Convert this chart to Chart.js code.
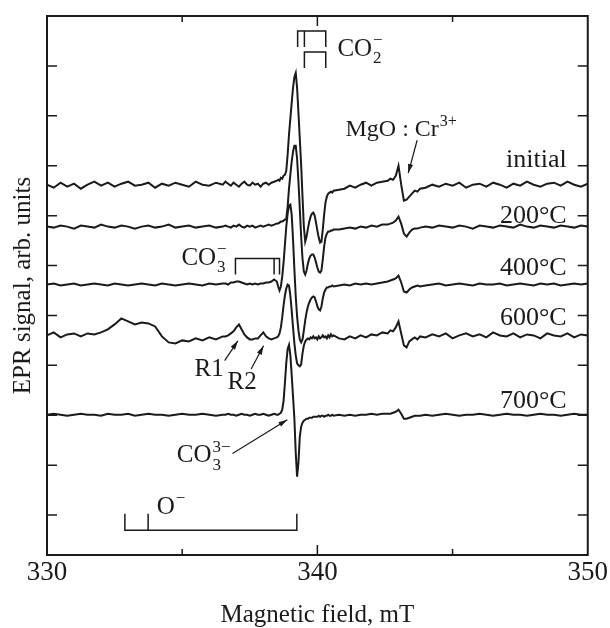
<!DOCTYPE html>
<html>
<head>
<meta charset="utf-8">
<script src="https://cdn.jsdelivr.net/npm/chart.js@4.4.1/dist/chart.umd.min.js"></script>
<style>
  html, body { margin: 0; padding: 0; background: #fff; }
  canvas { display: block; }
</style>
</head>
<body>
<canvas id="eprChart" width="610" height="628"></canvas>
<script>
// magnetic field grid, mT (denser where the lines are)
const fieldGrid = [330, 330.25, 330.5, 330.75, 331, 331.25, 331.5, 331.75, 332, 332.25, 332.5, 332.75, 333, 333.25, 333.5, 333.75, 334, 334.25, 334.5, 334.75, 335, 335.25, 335.5, 335.75, 336, 336.25, 336.5,
  336.6, 336.7, 336.8, 336.9, 337, 337.1, 337.2, 337.3, 337.4, 337.5, 337.6, 337.7, 337.8, 337.9, 338, 338.1, 338.2, 338.3, 338.4, 338.5,
  338.55, 338.6, 338.65, 338.7, 338.75, 338.8, 338.85, 338.9, 338.95, 339, 339.05, 339.1, 339.15, 339.2, 339.25, 339.3, 339.35, 339.4, 339.45, 339.5, 339.55, 339.6, 339.65, 339.7, 339.75, 339.8, 339.85, 339.9, 339.95, 340, 340.05, 340.1, 340.15, 340.2, 340.25, 340.3, 340.35, 340.4, 340.45, 340.5, 340.55, 340.6,
  340.8, 341, 341.2, 341.4, 341.6, 341.8, 342, 342.2, 342.4, 342.6,
  342.7, 342.8, 342.9, 343, 343.1, 343.2, 343.3, 343.4, 343.5, 343.6, 343.7, 343.8,
  344, 344.25, 344.5, 344.75, 345, 345.25, 345.5, 345.75, 346, 346.25, 346.5, 346.75, 347, 347.25, 347.5, 347.75, 348, 348.25, 348.5, 348.75, 349, 349.25, 349.5, 349.75, 350];

// spectra (signal relative to each trace's baseline)
const signalInitial = [0, -3, 2, -2, 1, -4, 0, 3, -1, 2, -2, 1, 3, -1, 0, 2, -3, 1, -1, 2, 0, -2, 3, 0, -1, 2, 0,
  3, 1, -1, 2, 0, -2, 1, 3, 0, -1, 2, 0, 1, -2, 1, 2, 0, 2, 3, 4,
  5, 4, 7, 6, 9, 10, 14, 30, 50, 66, 82, 97, 108, 112, 97, 72, 46, 20, -12, -42, -57, -52, -44, -37, -32, -29, -28, -31, -38, -46, -53, -58, -57, -45, -30, -18, -12, -9, -8, -7, -8, -6,
  -5, -4, -1, -3, 0, 2, -1, 2, 3, 4,
  6, 5, 9, 19, 0, -16, -15, -12, -9, -6, -7, -4,
  -3, 0, -2, 1, -1, 2, -3, 0, 1, -2, 2, 0, -3, 1, -1, 3, 0, -2, 1, 2, -1, 3, 0, -2, 1];

const signal200 = [0, -1, 1, 0, -2, 1, 0, -1, 2, 0, -1, 1, 0, -2, 0, 1, -1, 0, 2, -1, 0, 1, -1, 0, 1, -1, 0,
  1, 0, -1, 1, 0, 2, 0, -1, 1, 0, 1, -1, 0, 1, 0, 1, 2, 1, 2, 3,
  3, 4, 5, 5, 6, 7, 8, 20, 38, 52, 65, 75, 81, 81, 68, 45, 18, -10, -32, -45, -48, -44, -37, -32, -29, -28, -28, -31, -36, -41, -45, -46, -44, -33, -20, -11, -7, -5, -5, -4, -4, -3,
  -3, -2, -1, -2, 0, -1, 1, 0, 2, 2,
  3, 4, 6, 10, 3, -7, -10, -6, -3, -2, -2, -1,
  0, -1, 1, 0, -1, 1, 0, -2, 1, 0, -1, 1, 0, -1, 2, 0, -1, 1, 0, -1, 1, 0, -1, 1, 0];

const signal400 = [0, 1, -1, 0, 1, -1, 0, 1, 0, -1, 1, 0, -1, 0, 1, 0, -1, 1, 0, -1, 0, 1, 0, -1, 1, 0, 1,
  1, 0, 2, 2, 3, 3, 2, 1, 0, 1, 0, 1, 0, 1, 1, 2, 2, 3, 5, 3,
  -2, -6, -2, 8, 22, 40, 58, 71, 79, 80, 70, 45, 15, -12, -32, -46, -55, -58, -55, -46, -36, -28, -22, -18, -15, -13, -12, -13, -17, -22, -25, -26, -22, -14, -8, -5, -3, -3, -2, -2, -1, -2,
  -1, 0, -1, 1, 0, 1, 0, 1, 2, 3,
  4, 5, 6, 9, 2, -7, -8, -5, -3, -2, -1, -2,
  -1, 0, 1, -1, 0, 1, 0, -1, 1, 0, 0, 1, -1, 0, 1, 0, -1, 1, 0, 1, -1, 0, 1, 0, 1];

const signal600 = [0, 3, -2, 1, 2, -1, 2, 1, 3, 6, 11, 17, 14, 11, 13, 12, 9, -1, -7, -8, -5, -6, -3, -5, -2, -4, -1,
  -1, 0, 2, 4, 8, 11, 6, 1, -2, -4, -4, -3, -3, 0, 3, -1, -3, -4, -3, -2,
  -1, 2, 8, 18, 30, 40, 47, 51, 50, 40, 25, 8, -8, -20, -28, -30, -31, -29, -18, -10, -6, -4, -3, -4, -2, -3, -1, -3, -2, -4, -1, -3, -2, 0, -2, -1, -3, 0, -2, 1, -1, 0,
  -3, -4, -1, -3, 0, -2, 1, 0, 3, 2,
  5, 4, 8, 14, 2, -10, -12, -6, -4, -2, -4, -1,
  -2, 1, -1, 2, -3, 0, 2, -1, 1, -2, 3, 0, -1, 2, -2, 1, 0, -3, 2, 0, -1, 2, -2, 1, 0];

const signal700 = [0, 1, 0, -1, 0, 1, 0, 0, -1, 1, 0, 0, 1, -1, 0, 1, 0, 0, -1, 0, 1, 0, 0, 1, 0, -1, 0,
  0, 1, 0, 0, -1, 0, 1, 0, 0, -1, 0, 1, 0, 0, 1, 0, -1, 0, 1, 0,
  0, 1, 2, 5, 14, 32, 52, 66, 70, 60, 40, 18, -4, -38, -62, -48, -22, -12, -8, -6, -5, -4, -4, -3, -3, -3, -2, -2, -2, -2, -1, -2, -1, -1, -2, -1, -1, 0, -1, -1, 0, -1,
  0, -1, 0, -1, 0, 0, 1, 0, 1, 1,
  1, 2, 3, 5, 1, -4, -4, -3, -2, -1, -1, -1,
  0, -1, 0, 1, 0, -1, 0, 0, 1, 0, -1, 0, 1, 0, 0, -1, 0, 1, 0, 0, -1, 0, 1, 0, 0];

const traceNames = ['initial', '200°C', '400°C', '600°C', '700°C'];
const traceSignals = [signalInitial, signal200, signal400, signal600, signal700];
const traceOffsets = [331, 289, 231, 180, 100.5];

const FONT = '"Liberation Serif", "Times New Roman", serif';
const INK = '#1a1a1a';

function chem(ctx, x, y, base, sub, sup, size) {
  ctx.font = size + 'px ' + FONT;
  ctx.fillText(base, x, y);
  const w = ctx.measureText(base).width;
  ctx.font = Math.round(size * 0.68) + 'px ' + FONT;
  if (sub) ctx.fillText(sub, x + w + 1, y + size * 0.3);
  if (sup) ctx.fillText(sup, x + w + 1, y - size * 0.42);
}

function arrow(ctx, x1, y1, x2, y2) {
  ctx.beginPath(); ctx.moveTo(x1, y1); ctx.lineTo(x2, y2); ctx.stroke();
  const a = Math.atan2(y2 - y1, x2 - x1), L = 9, W = 2.6;
  ctx.beginPath();
  ctx.moveTo(x2, y2);
  ctx.lineTo(x2 - L * Math.cos(a) + W * Math.sin(a), y2 - L * Math.sin(a) - W * Math.cos(a));
  ctx.lineTo(x2 - L * Math.cos(a) - W * Math.sin(a), y2 - L * Math.sin(a) + W * Math.cos(a));
  ctx.closePath(); ctx.fill();
}

const decorPlugin = {
  id: 'decor',
  afterDatasetsDraw(chart) {
    const ctx = chart.ctx, x = chart.scales.x, y = chart.scales.y, a = chart.chartArea;
    const px = v => x.getPixelForValue(v), py = v => y.getPixelForValue(v);
    const poly = pts => {
      ctx.beginPath();
      pts.forEach((p, i) => i ? ctx.lineTo(px(p[0]), py(p[1])) : ctx.moveTo(px(p[0]), py(p[1])));
      ctx.stroke();
    };
    ctx.save();
    ctx.strokeStyle = INK; ctx.fillStyle = INK;

    // frame + inward ticks
    ctx.lineWidth = 2;
    ctx.strokeRect(a.left, a.top, a.right - a.left, a.bottom - a.top);
    ctx.lineWidth = 1.5;
    ctx.beginPath();
    x.ticks.forEach(t => {
      if (t.value <= x.min || t.value >= x.max) return;
      const p = px(t.value), len = t.value % 10 === 0 ? 10 : 6;
      ctx.moveTo(p, a.bottom); ctx.lineTo(p, a.bottom - len);
      ctx.moveTo(p, a.top); ctx.lineTo(p, a.top + len);
    });
    y.ticks.forEach(t => {
      if (t.value % 50 !== 0 || t.value <= y.min || t.value >= y.max) return;
      const p = py(t.value);
      ctx.moveTo(a.left, p); ctx.lineTo(a.left + 10, p);
      ctx.moveTo(a.right, p); ctx.lineTo(a.right - 10, p);
    });
    ctx.stroke();

    // trace labels
    ctx.textAlign = 'right'; ctx.textBaseline = 'alphabetic';
    ctx.font = '26px ' + FONT;
    const labelY = [349, 293, 241, 190, 107];
    traceNames.forEach((n, i) => ctx.fillText(n, px(349.22), py(labelY[i])));
    ctx.textAlign = 'left';

    // brackets
    ctx.lineWidth = 1.5;
    poly([[339.27, 469], [339.27, 485], [340.31, 485], [340.31, 469]]);
    poly([[339.52, 469], [339.52, 485]]);
    poly([[339.52, 448], [339.52, 464], [340.31, 464], [340.31, 448]]);
    poly([[336.97, 241], [336.97, 257], [338.6, 257], [338.6, 241]]);
    poly([[338.4, 241], [338.4, 257]]);
    poly([[332.88, 1.3], [332.88, -15.2], [339.24, -15.2], [339.24, 1.3]]);
    poly([[333.74, -15.2], [333.74, 1.3]]);

    // chemical labels
    chem(ctx, px(340.74), py(460), 'CO', '2', '−', 25);
    chem(ctx, px(341.04), py(379.5), 'MgO : Cr', '', '3+', 24);
    chem(ctx, px(334.97), py(251), 'CO', '3', '−', 25);
    chem(ctx, px(334.8), py(53), 'CO', '3', '3−', 25);
    chem(ctx, px(334.06), py(1.3), 'O', '', '−', 25);
    ctx.font = '25px ' + FONT;
    ctx.fillText('R1', px(335.46), py(139));
    ctx.fillText('R2', px(336.68), py(126.5));

    // arrows
    ctx.lineWidth = 1.2;
    arrow(ctx, px(343.69), py(375.5), px(343.36), py(342.6));
    arrow(ctx, px(336.57), py(154.7), px(337.06), py(174.6));
    arrow(ctx, px(337.55), py(146.4), px(338.01), py(169.6));
    arrow(ctx, px(336.86), py(61.8), px(338.89), py(95.6));
    ctx.restore();
  }
};

new Chart(document.getElementById('eprChart'), {
  type: 'line',
  data: {
    datasets: traceSignals.map((s, i) => ({
      label: traceNames[i],
      data: fieldGrid.map((f, k) => ({ x: f, y: traceOffsets[i] + s[k] })),
      borderColor: INK,
      borderWidth: 2,
      pointRadius: 0,
      tension: 0,
      fill: false
    }))
  },
  options: {
    responsive: false,
    animation: false,
    layout: { padding: { left: 0, right: 21, top: 16, bottom: 0 } },
    plugins: { legend: { display: false }, tooltip: { enabled: false } },
    scales: {
      x: {
        type: 'linear', min: 330, max: 350,
        grid: { display: false, drawTicks: false },
        border: { display: false },
        ticks: {
          stepSize: 5, autoSkip: false, maxRotation: 0, padding: 2, color: INK,
          font: { family: FONT, size: 27 },
          callback: v => (v % 10 === 0 ? v : '')
        },
        title: {
          display: true, text: 'Magnetic field, mT', color: INK,
          font: { family: FONT, size: 25, lineHeight: 1 },
          padding: { top: 11.6, bottom: 0 }
        }
      },
      y: {
        min: -40, max: 500,
        grid: { display: false, drawTicks: false },
        border: { display: false },
        ticks: { display: false, stepSize: 50 },
        title: {
          display: true, text: 'EPR signal, arb. units', color: INK,
          font: { family: FONT, size: 25, lineHeight: 1.2 },
          padding: { top: 8, bottom: 9 }
        }
      }
    }
  },
  plugins: [decorPlugin]
});
</script>
</body>
</html>
